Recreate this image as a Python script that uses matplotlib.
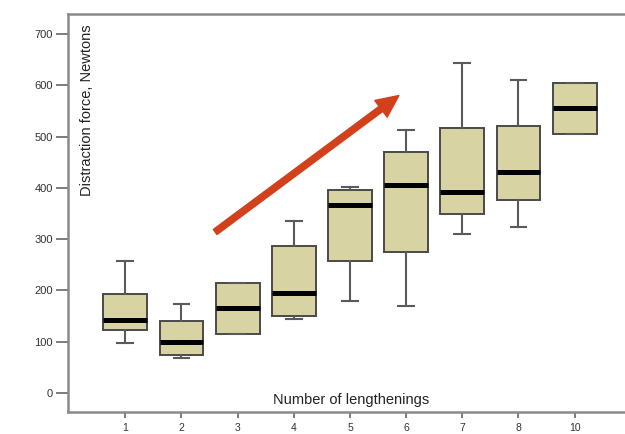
import matplotlib.pyplot as plt
import numpy as np

plt.rcParams['font.family'] = ['Liberation Sans', 'DejaVu Sans']

# lengthening counts (categorical) and box statistics, Newtons
groups = ['1', '2', '3', '4', '5', '6', '7', '8', '10']
whislo = [97, 68, 115, 145, 180, 169, 310, 323, 505]
q1 = [122, 75, 115, 151, 258, 275, 350, 377, 505]
median = [142, 100, 166, 195, 366, 406, 392, 431, 555]
q3 = [194, 140, 214, 286, 396, 470, 517, 521, 605]
whishi = [258, 174, 214, 336, 401, 512, 643, 611, 605]

# trend arrow (position, value)
arrow_start = (1.6, 314)
arrow_end = (4.87, 580)

box_fill = '#d7d3a2'
spine_col = '#8a8a8a'

fig = plt.figure(figsize=(6.25, 4.34), dpi=100)
ax = fig.add_axes([0.1088, 0.0507, 0.905, 0.917])

stats = []
for i, g in enumerate(groups):
    stats.append(dict(label=g, whislo=whislo[i], q1=q1[i], med=median[i],
                      q3=q3[i], whishi=whishi[i], fliers=[]))

pos = np.arange(len(groups))
ax.bxp(stats, positions=pos, widths=0.78, patch_artist=True, showfliers=False,
       boxprops=dict(facecolor=box_fill, edgecolor='#4a4a4a', linewidth=1.4),
       medianprops=dict(color='black', linewidth=3.6),
       whiskerprops=dict(color='#5a5a5a', linewidth=1.5),
       capprops=dict(color='#5a5a5a', linewidth=1.5), capwidths=0.28)

ax.annotate('', xy=arrow_end, xytext=arrow_start,
            arrowprops=dict(facecolor='#d2401c', edgecolor='#d2401c',
                            width=4.5, headwidth=15, headlength=16))

ax.set_xlim(-1.02, 9.05)
ax.set_ylim(-37, 739)
ax.set_yticks(range(0, 701, 100))
ax.set_xticks(pos)
ax.set_xticklabels(groups)

ax.spines['right'].set_visible(False)
for s in ['left', 'top', 'bottom']:
    ax.spines[s].set_color(spine_col)
    ax.spines[s].set_linewidth(1.8)

ax.tick_params(axis='y', length=9, width=1.2, color='#666666', pad=2,
               labelsize=8, labelcolor='#333333')
ax.tick_params(axis='x', length=4, width=1.2, color='#666666', pad=4,
               labelsize=7.5, labelcolor='#333333')

ax.text(0.034, 0.975, 'Distraction force, Newtons', transform=ax.transAxes,
        rotation=90, ha='center', va='top', fontsize=10.5, color='#222222')
ax.text(0.5, 0.012, 'Number of lengthenings', transform=ax.transAxes,
        ha='center', va='bottom', fontsize=10.5, color='#222222')

fig.savefig('out.png', dpi=100)
